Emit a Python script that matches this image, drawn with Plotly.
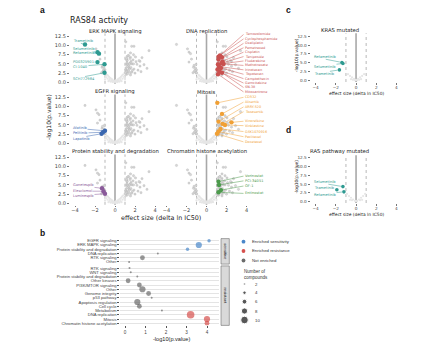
import plotly.graph_objects as go

W, H = 447, 345

# ---------------- Panel a: RAS84 activity (effect size vs -log10 p) ----------------
erk_names = ["Trametinib", "Selumetinib", "Refametinib", "PD0325901", "CI-1040", "SCH772984"]
erk_x = [-3.0, -1.75, -1.6, -1.75, -1.05, -1.05]
erk_y = [10.3, 8.2, 7.8, 5.5, 4.9, 2.6]

egfr_names = ["Afatinib", "Pelitinib", "Lapatinib"]
egfr_x = [-1.0, -1.2, -1.35]
egfr_y = [3.4, 3.0, 2.6]

prot_names = ["Ganetespib", "Elesclomol", "Luminespib"]
prot_x = [-1.3, -1.15, -1.0]
prot_y = [4.1, 3.3, 2.6]

dna_names = ["Temozolomide", "Cyclophosphamide", "Oxaliplatin", "Pemetrexed", "Cisplatin",
             "Teniposide", "Fludarabine", "Methotrexate", "Irinotecan", "Topotecan",
             "Camptothecin", "Gemcitabine", "SN-38", "Mitoxantrone"]
dna_x = [1.2, 1.35, 1.55, 1.2, 1.6, 1.5, 1.15, 1.7, 1.25, 1.45, 1.1, 1.3, 1.55, 1.15]
dna_y = [7.0, 7.3, 6.8, 6.2, 5.7, 5.2, 4.9, 5.0, 4.3, 3.9, 3.5, 2.9, 2.6, 2.2]

mit_names = ["CD532", "Alisertib", "ARRY-520", "Tozasertib", "Vinorelbine", "Vinblastine",
             "GSK1070916", "Paclitaxel", "Docetaxel"]
mit_x = [1.08, 1.55, 1.2, 1.6, 2.5, 1.85, 1.4, 1.2, 1.05]
mit_y = [11.0, 8.0, 5.9, 5.3, 5.7, 5.0, 3.9, 3.2, 2.6]

chr_names = ["Vorinostat", "PCI-34051", "OF-1", "Entinostat"]
chr_x = [1.2, 1.25, 1.45, 1.2]
chr_y = [5.9, 5.0, 3.6, 3.0]

# other significant compounds (grey)
other_x = [1.67, 1.9, 3.4, 2.7, 2.5, 1.3, 1.5, 1.8, 2.1, 2.2, 1.2, 1.4, 1.6, 1.9, 2.3,
           1.1, 1.35, 1.7, 2.0, 2.4, 1.25, 1.55, 1.85, 2.9, 3.2, 1.15, 1.45, 1.75, 2.05, 2.6,
           -1.9, -1.5, -1.25, -1.1]
other_y = [9.8, 9.8, 8.6, 6.7, 4.4, 7.2, 6.5, 6.1, 5.6, 4.9, 5.3, 4.6, 4.0, 3.6, 3.3,
           3.9, 3.1, 2.8, 2.5, 5.9, 2.3, 2.0, 7.5, 4.8, 3.8, 6.4, 5.0, 3.3, 6.9, 2.9,
           9.1, 6.3, 4.6, 3.9]

# non-significant compounds (light cloud)
ns_x = [-1.1, -0.95, -0.8, -0.7, -0.6, -0.5, -0.4, -0.3, -0.2, -0.1, 0.0, 0.1, 0.2, 0.3, 0.4,
        0.5, 0.6, 0.7, 0.8, 0.95, 1.1, -0.9, -0.75, -0.55, -0.35, -0.15, 0.15, 0.35, 0.55,
        0.75, 0.9, -0.65, -0.45, -0.25, 0.25, 0.45, 0.65, -1.0, 1.0, 0.05]
ns_y = [2.8, 2.5, 2.0, 1.8, 1.5, 1.2, 1.0, 0.8, 0.5, 0.3, 0.1, 0.3, 0.5, 0.8, 1.0,
        1.2, 1.5, 1.8, 2.1, 2.5, 2.9, 1.4, 1.0, 0.7, 0.4, 0.2, 0.2, 0.4, 0.6,
        1.0, 1.5, 0.3, 0.2, 0.1, 0.1, 0.2, 0.3, 0.8, 0.9, 0.5]

# label heights (-log10 p units) of the callouts
erk_label_y = [11.3, 9.0, 7.9, 5.6, 4.2, 0.9]
egfr_label_y = [4.2, 2.7, 1.2]
prot_label_y = [5.0, 3.3, 2.0]
dna_label_y = [13.0, 11.8, 10.6, 9.4, 8.2, 7.0, 5.8, 4.6, 3.4, 2.2, 1.0, -0.2, -1.4, -2.6]
mit_label_y = [12.5, 11.2, 9.9, 8.6, 6.0, 4.8, 3.2, 1.8, 0.4]
chr_label_y = [7.4, 6.1, 4.7, 2.7]

# ---------------- Panel c: KRAS mutated ----------------
kras_names = ["Refametinib", "Selumetinib", "Trametinib"]
kras_x = [-1.4, -1.3, -1.65]
kras_y = [5.1, 4.8, 3.0]
kras_label_y = [6.7, 3.9, 1.9]
kras_ns_x = [-0.8, -0.6, -0.4, -0.2, 0.0, 0.2, 0.4, 0.6, 0.8, -0.5, 0.5, -0.3, 0.3, 0.1, -0.1]
kras_ns_y = [1.8, 1.3, 0.9, 0.5, 0.2, 0.5, 0.9, 1.3, 1.8, 0.4, 0.4, 0.2, 0.2, 0.1, 0.1]

# ---------------- Panel d: RAS pathway mutated ----------------
ras_names = ["Selumetinib", "Trametinib", "Refametinib"]
ras_x = [-1.3, -1.9, -1.2]
ras_y = [4.3, 3.4, 2.8]
ras_label_y = [5.7, 4.0, 2.0]
ras_ns_x = [-0.9, -0.7, -0.5, -0.3, -0.1, 0.1, 0.3, 0.5, 0.7, 0.9, -0.4, 0.4, 0.0, -0.6, 0.6]
ras_ns_y = [2.2, 1.6, 1.1, 0.6, 0.2, 0.2, 0.6, 1.1, 1.6, 2.2, 0.4, 0.4, 0.1, 0.5, 0.5]

# ---------------- Panel b: pathway enrichment ----------------
b_top_cats = ["EGFR signaling", "ERK MAPK signaling", "Protein stability and degradation",
              "DNA replication", "RTK signaling", "Other"]
b_top_x = [4.1, 3.6, 3.05, 1.6, 0.85, 0.2]
b_top_n = [4, 8, 4, 2, 6, 2]
b_top_class = ["sens", "sens", "sens", "none", "none", "none"]

b_bot_cats = ["RTK signaling", "WNT signaling", "Protein stability and degradation", "Other kinases",
              "PI3K/MTOR signaling", "Other", "Genome integrity", "p53 pathway",
              "Apoptosis regulation", "Cell cycle", "Metabolism", "DNA replication", "Mitosis",
              "Chromatin histone acetylation"]
b_bot_x = [0.22, 0.28, 0.6, 0.15, 0.7, 0.85, 1.15, 1.3, 0.6, 0.7, 1.8, 3.2, 4.0, 4.0]
b_bot_n = [2, 2, 2, 6, 6, 8, 6, 2, 8, 6, 2, 10, 8, 6]
b_bot_class = ["none"] * 11 + ["res", "res", "res"]

legend_sizes = [2, 4, 6, 8, 10]

# ---------------- styling ----------------
C_ERK, C_EGFR, C_DNA = "#2e9a91", "#3a67b0", "#c9504f"
C_MIT, C_PROT, C_CHR = "#f0a035", "#8a5a9a", "#4c9a4c"
LIGHT = "#e6e6e6"
CLASS_COL = {"sens": "#4a87c9", "res": "#d6504d", "none": "#6b6b6b"}
FONT = "DejaVu Sans"
FONT_B = "Liberation Sans"


def px(x):
    return x / W


def py(y):
    return 1 - y / H


def size_of(n):
    return 0.7 * n + 0.6


fig = go.Figure()
layout = dict(width=W, height=H, margin=dict(l=0, r=0, t=0, b=0), paper_bgcolor="white",
              plot_bgcolor="rgba(0,0,0,0)", showlegend=False,
              font=dict(family=FONT, color="#333"))
annotations, shapes = [], []


def akey(n, ax):
    return f"{ax}axis" if n == 1 else f"{ax}axis{n}"


def aref(n, ax):
    return ax if n == 1 else f"{ax}{n}"


def text(xp, yp, s, size, color="#222", family=FONT, xanchor="center", yanchor="middle",
         angle=0, bold=False):
    if bold:
        s = f"<b>{s}</b>"
    annotations.append(dict(x=px(xp), y=py(yp), xref="paper", yref="paper", text=s,
                            showarrow=False, xanchor=xanchor, yanchor=yanchor, textangle=angle,
                            font=dict(size=size, color=color, family=family)))


def volcano(n, xd, yd, show_x, show_y, tsize=5):
    layout[akey(n, "x")] = dict(
        domain=[px(xd[0]), px(xd[1])], anchor=aref(n, "y"), range=[-4.5, 4.5],
        tickvals=[-4, -2, 0, 2, 4], ticktext=["\u22124", "\u22122", "0", "2", "4"],
        showticklabels=show_x, ticks="outside" if show_x else "", ticklen=1.5, tickwidth=0.6,
        tickcolor="#777", tickfont=dict(size=tsize, color="#444", family=FONT),
        ticklabelstandoff=-1,
        showgrid=False, zeroline=False, showline=False)
    layout[akey(n, "y")] = dict(
        domain=[py(yd[1]), py(yd[0])], anchor=aref(n, "x"), range=[-0.4, 13.3],
        tickvals=[0, 2.5, 5, 7.5, 10, 12.5], ticktext=["0.0", "2.5", "5.0", "7.5", "10.0", "12.5"],
        showticklabels=show_y, ticks="outside" if show_y else "", ticklen=2, tickwidth=0.6,
        tickcolor="#777", tickfont=dict(size=tsize, color="#444", family=FONT),
        showgrid=False, zeroline=False, showline=False)
    for xv, dash, col, wd in [(-1, "dot", "#9a9a9a", 0.7), (1, "dot", "#9a9a9a", 0.7),
                              (0, "solid", "#a8a8a8", 1.6)]:
        shapes.append(dict(type="line", xref=aref(n, "x"), yref=aref(n, "y") + " domain",
                           x0=xv, x1=xv, y0=0, y1=1, line=dict(color=col, width=wd, dash=dash),
                           layer="below"))


def pts(n, x, y, color, size, line_col=None, lw=0.3):
    fig.add_trace(go.Scatter(
        x=x, y=y, mode="markers", xaxis=aref(n, "x"), yaxis=aref(n, "y"), hoverinfo="skip",
        marker=dict(color=color, size=size,
                    line=dict(width=lw if line_col else 0, color=line_col or color))))


def callouts(n, names, xs, ys, label_x, label_ys, color, fsize=3.6):
    for nm, xv, yv, ly in zip(names, xs, ys, label_ys):
        annotations.append(dict(
            x=xv, y=yv, xref=aref(n, "x"), yref=aref(n, "y"), ax=label_x, ay=ly,
            axref=aref(n, "x"), ayref=aref(n, "y"), text=nm, showarrow=True, arrowhead=0,
            arrowwidth=0.5, arrowcolor=color, standoff=2, xanchor="left", yanchor="middle",
            borderpad=0, font=dict(size=fsize, color=color, family=FONT)))


# ----- panel a -----
groups = [
    ("ERK MAPK signaling", erk_names, erk_x, erk_y, erk_label_y, C_ERK, -4.3),
    ("DNA replication", dna_names, dna_x, dna_y, dna_label_y, C_DNA, 3.7),
    ("EGFR signaling", egfr_names, egfr_x, egfr_y, egfr_label_y, C_EGFR, -4.3),
    ("Mitosis", mit_names, mit_x, mit_y, mit_label_y, C_MIT, 3.7),
    ("Protein stability and degradation", prot_names, prot_x, prot_y, prot_label_y, C_PROT, -4.3),
    ("Chromatin histone acetylation", chr_names, chr_x, chr_y, chr_label_y, C_CHR, 3.7),
]
all_x = erk_x + egfr_x + prot_x + dna_x + mit_x + chr_x + other_x
all_y = erk_y + egfr_y + prot_y + dna_y + mit_y + chr_y + other_y
cols_px = [(70, 160), (161.5, 251.5)]
rows_px = [(33.4, 83.8), (94.4, 144.8), (154.4, 204.8)]
title_y = [31.2, 91.8, 151.8]

for i, (title, names, gx, gy, gly, col, lx) in enumerate(groups):
    n = i + 1
    r, c = divmod(i, 2)
    volcano(n, cols_px[c], rows_px[r], show_x=(r == 2), show_y=(c == 0))
    pts(n, ns_x, ns_y, LIGHT, 2.3)
    gset = set(zip(gx, gy))
    bx = [a for a, b in zip(all_x, all_y) if (a, b) not in gset]
    by = [b for a, b in zip(all_x, all_y) if (a, b) not in gset]
    pts(n, bx, by, "#d6d6d6", 2.3, line_col="#ababab", lw=0.3)
    pts(n, gx, gy, col, 4.4)
    callouts(n, names, gx, gy, lx, gly, col, fsize=3.4 if len(names) > 5 and c == 1 else 3.6)
    text((cols_px[c][0] + cols_px[c][1]) / 2, title_y[r], title, 5.3, color="#222")

text(42, 10, "a", 8.5, color="#111", family=FONT_B, bold=True)
text(98.5, 20.5, "RAS84 activity", 8, color="#222")
text(49, 117, "-log10(p.value)", 6, color="#222", angle=-90)
text(160.5, 217.5, "effect size (delta ln IC50)", 6.4, color="#222")

# ----- panels c and d -----
for n, ttl, names, gx, gy, gly, nsx, nsy, ydom, lab, lab_y, ttl_y, tick_y in [
    (7, "KRAS mutated", kras_names, kras_x, kras_y, kras_label_y, kras_ns_x, kras_ns_y,
     (33.3, 82.0), "c", 10, 30.5, 93.5),
    (8, "RAS pathway mutated", ras_names, ras_x, ras_y, ras_label_y, ras_ns_x, ras_ns_y,
     (155.2, 203.0), "d", 130, 151.5, 214),
]:
    volcano(n, (310.6, 401.5), ydom, True, True, tsize=4.2)
    pts(n, nsx, nsy, LIGHT, 2.2)
    pts(n, gx, gy, C_ERK, 3.6)
    callouts(n, names, gx, gy, -4.25, gly, C_ERK)
    text(288, lab_y, lab, 8.5, color="#111", family=FONT_B, bold=True)
    text(339.5, ttl_y, ttl, 5.3, color="#222")
    text(356, tick_y, "effect size (delta ln IC50)", 4.4, color="#222")
    text(296.5, (ydom[0] + ydom[1]) / 2 - 2, "-log10(p.value)", 4.4, color="#222", angle=-90)

# ----- panel b -----
bx_dom = (119.9, 219.3)
for n, cats, xs, ns, cls, yd, show_x in [
    (9, b_top_cats, b_top_x, b_top_n, b_top_class, (238.6, 264.1), False),
    (10, b_bot_cats, b_bot_x, b_bot_n, b_bot_class, (265.9, 325.4), True),
]:
    layout[akey(n, "x")] = dict(
        domain=[px(bx_dom[0]), px(bx_dom[1])], anchor=aref(n, "y"), range=[-0.25, 4.6],
        tickvals=[0, 1, 2, 3, 4], showticklabels=show_x, ticks="outside" if show_x else "",
        ticklen=2, tickwidth=0.6, tickcolor="#555",
        tickfont=dict(size=4.6, color="#444", family=FONT_B),
        showgrid=False, zeroline=False, showline=False)
    layout[akey(n, "y")] = dict(
        domain=[py(yd[1]), py(yd[0])], anchor=aref(n, "x"),
        tickvals=list(range(len(cats))), ticktext=cats, range=[len(cats) - 0.5, -0.5],
        ticks="outside", ticklen=1.5, tickwidth=0.6, tickcolor="#555",
        tickfont=dict(size=4.2, color="#444", family=FONT_B),
        showgrid=True, gridcolor="#e4e4e4", gridwidth=0.6, zeroline=False, showline=False)
    fig.add_trace(go.Scatter(
        x=xs, y=list(range(len(cats))), mode="markers", xaxis=aref(n, "x"), yaxis=aref(n, "y"),
        hoverinfo="skip",
        marker=dict(size=[size_of(v) for v in ns], color=[CLASS_COL[k] for k in cls],
                    line=dict(width=0))))
    shapes.append(dict(type="rect", xref="paper", yref="paper", x0=px(221), x1=px(229.3),
                       y0=py(yd[1]), y1=py(yd[0]), fillcolor="#d9d9d9",
                       line=dict(color="#555", width=0.5)))
    text(225.2, (yd[0] + yd[1]) / 2, "sensitive" if n == 9 else "resistant", 4.2,
         color="#222", family=FONT_B, angle=90)

text(42, 233, "b", 8.5, color="#111", family=FONT_B, bold=True)
text(171, 338.5, "-log10(p.value)", 5.6, color="#222", family=FONT_B)

# legend overlay axis (pixel coordinates)
layout["xaxis11"] = dict(domain=[0, 1], range=[0, W], visible=False, anchor="y11")
layout["yaxis11"] = dict(domain=[0, 1], range=[H, 0], visible=False, anchor="x11")
leg_items = [("Enriched sensitivity", "sens", 241.7), ("Enriched resistance", "res", 251),
             ("Not enriched", "none", 260.5)]
fig.add_trace(go.Scatter(
    x=[243.5] * 3, y=[it[2] for it in leg_items], mode="markers", xaxis="x11", yaxis="y11",
    hoverinfo="skip", marker=dict(size=3.8, color=[CLASS_COL[it[1]] for it in leg_items])))
for lbl, _, yy in leg_items:
    text(249.5, yy, lbl, 4.3, color="#333", family=FONT_B, xanchor="left")
text(241.5, 271.5, "Number of", 4.5, color="#333", family=FONT_B, xanchor="left")
text(241.5, 277.3, "compounds", 4.5, color="#333", family=FONT_B, xanchor="left")
size_y = [284, 292.7, 301.7, 311, 320]
fig.add_trace(go.Scatter(
    x=[244.5] * len(legend_sizes), y=size_y, mode="markers", xaxis="x11", yaxis="y11",
    hoverinfo="skip", marker=dict(size=[size_of(v) for v in legend_sizes], color="#111")))
for v, yy in zip(legend_sizes, size_y):
    text(252.5, yy, str(v), 4.3, color="#333", family=FONT_B, xanchor="left")

layout["annotations"] = annotations
layout["shapes"] = shapes
fig.update_layout(**layout)
fig.write_html("out.html")
